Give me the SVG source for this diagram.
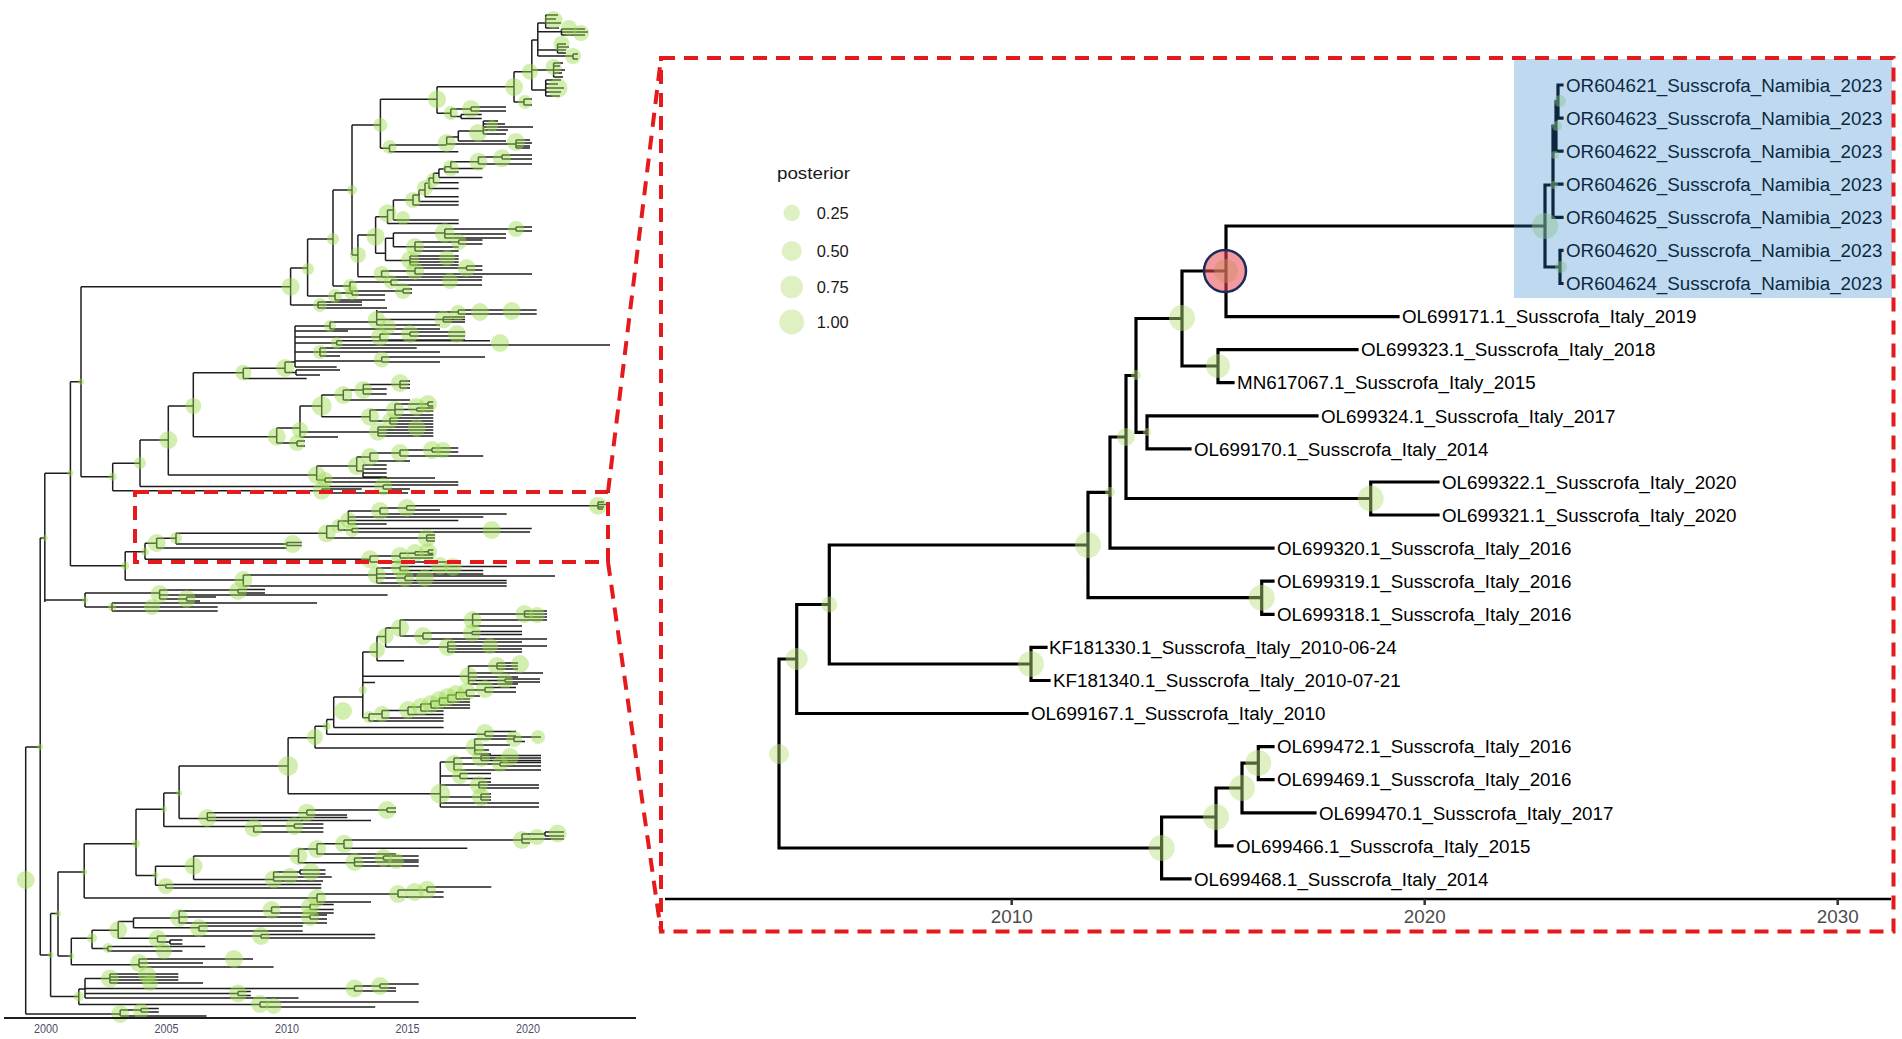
<svg xmlns="http://www.w3.org/2000/svg" width="1902" height="1039" viewBox="0 0 1902 1039">
<style>
.lt{fill:none;stroke:#1e1e1e;stroke-width:1.5}
.rt{fill:none;stroke:#000;stroke-width:3.2;stroke-linecap:square}
.pg circle{fill:#9cdc4e;fill-opacity:.45}
.pr circle{fill:#b8e07a;fill-opacity:.45}
.lab{font-family:"Liberation Sans",Arial,sans-serif;font-size:18.8px;fill:#000}
.ax{font-family:"Liberation Sans",Arial,sans-serif;font-size:18.8px;fill:#4d4d4d;text-anchor:middle}
.axl{font-family:"Liberation Sans",Arial,sans-serif;font-size:12px;fill:#4d4d66;text-anchor:middle}
.leg{font-family:"Liberation Sans",Arial,sans-serif;font-size:16px;fill:#1a1a1a}
.dash{fill:none;stroke:#e41a1c;stroke-width:4;stroke-dasharray:14 9}
</style>
<rect width="1902" height="1039" fill="#fff"/>

<g id="left-tree">
<path class="lt" d="M25.7 747V1014M25.7 747H40.2M25.7 1014H120.2M40.2 538V955M40.2 538H44.8M44.8 473.3V602M44.8 473.3H70.4M70.4 381.7V565.7M70.4 381.7H81M81 286.7V476.7M81 286.7H290.6M81 476.7H112.7M70.4 565.7H125.2M44.8 600H85M40.2 955H50.6"/>
<path class="lt" d="M290.6 268V305M290.6 305H318M318 302V308M318 302H362M318 305H362M318 308H387M290.6 268H307.6M307.6 239V296M307.6 296H335M335 293V300M335 293H352M352 291V295M352 291H385M352 295H385M335 300H385M307.6 239H333M333 190V286M333 286H350M350 282V291M350 282H391M391 280V285M391 280H482M391 285H482M350 291H403M403 289V293M403 289H412M403 293H412M333 190H352M352 125V255M352 125H380.4M380.4 99.3V148.3M380.4 99.3H437M437 86.7V113.3M437 86.7H514M514 71.7V102M514 102H524M524 99V105M524 99H532M524 105H532M514 71.7H531.8M531.8 40V90M531.8 40H537.8M531.8 70H553.6M531.8 90H545.7M537.8 23V56M537.8 23H545.7M537.8 31.7H561.5M537.8 50H557.5M537.8 56H573M545.7 15V28M545.7 15H558M545.7 19H556M545.7 23H561M545.7 28H559M561.5 29V35M561.5 29H585M561.5 32H588M561.5 35H585M557.5 44V53M557.5 44H566M557.5 47H569M557.5 50H566M557.5 53H566M573 54V59M573 54H578M573 59H578M553.6 63V77M553.6 63H563M553.6 66H560M553.6 70H565M553.6 73H562M553.6 77H563M545.7 80V96M545.7 80H561M545.7 84H558M545.7 88H564M545.7 92H561M545.7 96H560M437 113.3H450.8M450.8 109V116.5M450.8 109H471M471 107V111M471 107H506M471 111H506M450.8 116.5H461M461 114.5V118.5M461 114.5H481.7M461 118.5H481.7M380.4 148.3H389.5M389.5 145V151.7M389.5 151.7H458.3M389.5 145H446.7M446.7 137V144M446.7 137H458.3M458.3 131V141M458.3 141H506M458.3 131H483.3M483.3 121V134M483.3 121H498M483.3 124H505M483.3 127H533M483.3 130H508M483.3 134H506M446.7 144H516M516 140V148M516 140H530M516 143H532M516 146H530M516 148H530"/>
<path class="lt" d="M352 255H357.9M357.9 235V276.7M357.9 235H375.6M375.6 216.7V253.3M375.6 216.7H387.5M387.5 210V223.4M387.5 223.4H458.7M387.5 210H393.4M393.4 200V220M393.4 220H458.7M393.4 200H413M413 195V205M413 205H458.7M413 195H419M419 190V201.5M419 201.5H458.7M419 190H425M425 183.3V196.7M425 196.7H458.7M425 183.3H429M429 178V188.6M429 188.6H458.7M429 178H433.5M433.5 173.3V182.7M433.5 182.7H458.7M433.5 173.3H438.9M438.9 169V177.6M438.9 177.6H482.4M438.9 169H444.8M444.8 166.7V172M444.8 172H458.7M444.8 166.7H450.8M450.8 161.7V168.5M450.8 168.5H482.4M450.8 161.7H478.4M478.4 157V164M478.4 164H532M478.4 157H502M502 155V159M502 155H532M502 159H532M375.6 253.3H385.5M385.5 238.3V260.5M385.5 238.3H393.4M393.4 233V246.7M393.4 233H444.8M444.8 229V238M444.8 229H516M516 227V231M516 227H532M516 231H532M444.8 234H506M444.8 238H506M393.4 246.7H415M415 242V251M415 242H458.7M458.7 240V244M458.7 240H482.4M458.7 244H482.4M415 247H458.7M415 251H458.7M385.5 260.5H410M410 256V265M410 256H458.7M410 259H458.7M410 262H458.7M410 265H458.7M357.9 276.7H381.6M381.6 271V277M381.6 271H415M415 268V274M415 268H466.6M466.6 266V270M466.6 266H482.4M466.6 270H482.4M415 274H532M381.6 277H482.4"/>
<path class="lt" d="M112.7 463.3V490.7M112.7 463.3H140M140 440V486.5M140 440H168.3M168.3 406V475M168.3 406H193.3M193.3 372.7V436.7M193.3 372.7H243.3M243.3 368.3V378.5M243.3 378.5H306.7M243.3 368.3H285M285 362V372.5M285 372.5H296M296 370V375M296 370H340M296 375H320M285 362H295M295 326V367M295 367H336.7M295 361H381.7M381.7 357V362M381.7 357H485M381.7 362H440M295 352H320M320 348V356M320 348H416.7M320 352H440M320 356H340M295 343H336.7M336.7 340.7V345M336.7 340.7H490M336.7 345H610M295 337H380M380 334V340M380 340H465M380 334H410M410 332V336M410 332H465M410 336H465M295 331H348M295 326H330M330 322V329M330 329H440M330 322H376.7M376.7 310V325M376.7 325H440M376.7 319.5H443.3M443.3 317V322M443.3 317H465M443.3 319.5H465M443.3 322H465M376.7 312H458.3M458.3 310V314M458.3 310H536.7M458.3 314H536.7"/>
<path class="lt" d="M193.3 436.7H276.7M276.7 428V443M276.7 428H300M300 406V437M300 406H321.7M321.7 395V416.7M321.7 395H343.3M343.3 390V400M343.3 390H363.3M363.3 384.5V394M363.3 384.5H400M400 381V388M400 381H410M400 384.5H410M400 388H410M363.3 389H386.7M363.3 394H386.7M343.3 400H410M321.7 416.7H370M370 410V421M370 410H395M395 404V415M395 404H428M428 402V406M428 402H433.3M428 406H433.3M395 409.5H416.7M416.7 408V411M416.7 408H433.3M416.7 411H433.3M395 415H433.3M370 421H390M390 418V424M390 418H433.3M390 421H433.3M390 424H433.3M300 432H378M378 427V436M378 427H433.3M378 430H433.3M378 433H433.3M378 436H433.3M300 437H338M276.7 443H297M297 441V446M297 441H305M297 446H305M168.3 475H316.7M316.7 466V480M316.7 466H356.7M356.7 457V471M356.7 457H370M370 453V461M370 453H400M400 450V456M400 450H432M432 448V452M432 448H458.3M432 452H458.3M400 456H483.3M370 461H410M356.7 471H363M363 465V477M363 465H386.7M363 469H386.7M363 473H386.7M363 477H386.7M316.7 480H325M325 478V482M325 478H435M325 482H458.3M140 486.5H383.3M383.3 485V489M383.3 485H458.3M383.3 489H410M112.7 490.7H321.7M321.7 489V493M321.7 489H361.7M321.7 493H408"/>
<path class="lt" d="M125.2 551.7V580M125.2 551.7H145M145 543.3V559.3M145 543.3H156.7M156.7 538.3V548M156.7 538.3H176M176 533.3V544M176 533.3H326.7M326.7 526V538M326.7 526H338.3M338.3 521V530M338.3 530H352M352 528.5V532M352 528.5H531.7M352 532H530M338.3 521H348.3M348.3 511V524M348.3 524H386.7M348.3 520.5H458.3M348.3 517H483.3M348.3 511H380M380 508V514M380 514H506.7M380 508H406.7M406.7 505.7V510M406.7 510H440M406.7 505.7H598M598 502V509M598 502H604M598 504.5H606M598 507H604M598 509H603M326.7 538H426.7M426.7 535V541M426.7 535H435M426.7 538H435M426.7 541H435M176 544H286.7M286.7 542.5V545.5M286.7 542.5H301.7M286.7 545.5H301.7M156.7 548H286.7M145 559.3H370M370 556V562M370 556H400M400 553.3V558M400 553.3H415M415 551.7V555M415 551.7H428.3M428.3 550V553.5M428.3 550H433.3M428.3 553.5H433.3M415 555H433.3M400 558H433.3M370 562H458.3M125.2 580H243.3M243.3 575V586M243.3 575H376.7M376.7 568V583M376.7 568H400M400 566.5V570.5M400 566.5H506.7M400 570.5H483.3M376.7 574H483.3M376.7 578H405M405 576V580.5M405 576H555M405 580.5H506.7M376.7 583H506.7M243.3 586H506.7M85 593V607M85 593H159.6M159.6 590V599M159.6 590H238M238 589.5V593M238 589.5H265M238 593H265M159.6 595H387.6M159.6 599H186.6M186.6 597V601M186.6 597H216M186.6 601H200M85 607H112M112 603V611M112 603H317M112 607H217.7M112 611H217.7"/>
<path class="lt" d="M50.6 913.6V996.5M50.6 913.6H58M58 872V956M58 872H84.2M84.2 843.8V898M84.2 843.8H136M136 809.3V875.6M136 809.3H163.8M163.8 793V826.5M163.8 793H179.1M179.1 766V818.6M179.1 766H288.1M288.1 737.7V793.7M288.1 737.7H315M315 726.3V748.1M315 726.3H326.7M326.7 719.4V734.3M326.7 719.4H333.7M333.7 697V727.4M333.7 727.4H443.6M333.7 697H362.8M362.8 652V717.7M362.8 652H377M377 636.5V660.7M377 660.7H404M377 636.5H385.6M385.6 628V647M385.6 628H400M400 620V636M400 620H472.6M472.6 614V626M472.6 614H524.5M524.5 611V617M524.5 611H547M524.5 614H547M524.5 617H547M472.6 620H547M472.6 626H522M400 636H423M423 633V639M423 633H472M472 631.5V634.5M472 631.5H522M472 634.5H522M423 639H547M385.6 647H447.8M447.8 642V652M447.8 642H522M447.8 646H547M447.8 649H522M447.8 652H522M362.8 676.2H468.5M468.5 666V684M468.5 666H497M497 663V669M497 663H518M497 666H518M497 669H518M468.5 673H543M468.5 677H518M468.5 680.5H505M505 679V682M505 679H540M505 682H540M468.5 684H518M362.8 682.4H375M362.8 717.7H369M369 714V721M369 721H443.6M369 714H382M382 710.5V718M382 718H443.6M382 710.5H408M408 707V714.5M408 714.5H443.6M408 707H420.8M420.8 704V711M420.8 711H443.6M420.8 704H431M431 701V708M431 708H470M431 701H439.4M439.4 698V705M439.4 705H470M439.4 698H447.8M447.8 695V702M447.8 702H470M447.8 695H456M456 692.5V699M456 699H470M456 692.5H466.4M466.4 690V696M466.4 696H480M466.4 690H485M485 687.5V692M485 687.5H516M485 692H516M326.7 734.3H485M485 731.5V736M485 731.5H516M485 736H516M315 748.1H474.7M474.7 739V754M474.7 739H514M514 737V741.5M514 737H541M514 741.5H525M474.7 745H510M474.7 750H489M474.7 754H491"/>
<path class="lt" d="M288.1 793.7H440.3M440.3 762V807M440.3 762H454M454 758V770M454 758H481M481 755.5V760.5M481 755.5H541M481 758H541M481 760.5H541M454 764H500M500 762.5V766M500 762.5H541M500 766H541M454 770H541M440.3 776H460M460 773.5V778.5M460 773.5H491M460 778.5H491M440.3 785H478.9M478.9 782V788M478.9 782H491M478.9 785H539M478.9 788H539M440.3 797H481M481 794V800M481 794H491M481 797H491M481 800H491M440.3 803H539M440.3 807H539M179.1 818.6H207.3M207.3 812.7V820.5M207.3 812.7H306.8M306.8 810V815M306.8 810H387M387 808V812M387 808H396M387 812H396M306.8 815H347M207.3 817.5H347.4M207.3 820.5H371M163.8 826.5H253.7M253.7 826V832M253.7 826H294.4M294.4 824V828M294.4 824H323.4M294.4 828H323.4M253.7 832H323.4M136 875.6H155.5M155.5 866.3V885.3M155.5 866.3H193.6M193.6 856V879.4M193.6 856H298.5M298.5 849V862.8M298.5 849H317M317 843.8V854M317 843.8H344M344 840V848.3M344 840H522M522 834V843M522 834H545M545 832V836M545 832H564M545 836H564M522 839H564M522 843H530M344 848.3H467.3M317 854H396M298.5 862.8H354.5M354.5 858V866M354.5 858H383.5M383.5 856V860M383.5 856H418.7M383.5 860H418.7M354.5 862H418.7M354.5 866H418.7M193.6 879.4H273.6M273.6 872V881M273.6 872H300M300 870V874M300 870H325.5M300 874H325.5M273.6 877H331.7M273.6 881H323M155.5 885.3H165.8M165.8 884.5V888M165.8 884.5H321.3M165.8 888H321.3M84.2 898H317M317 894V902M317 894H398M398 890V897M398 890H427M427 887V892M427 887H491.3M427 892H443.6M398 897H443.6M317 902H371"/>
<path class="lt" d="M58 956H71.3M71.3 938.2V964.8M71.3 938.2H92M92 930.2V948.5M92 930.2H118.2M118.2 921.6V938.2M118.2 921.6H133.5M133.5 918.1V927.8M133.5 918.1H179.1M179.1 911V923M179.1 911H271.6M271.6 907V913M271.6 907H310M310 904.5V909.5M310 904.5H333.7M310 909.5H333.7M271.6 913H333.7M179.1 917H310M310 915V919M310 915H327M310 919H327M179.1 923H327M133.5 927.8H199M199 926V931M199 926H302.7M199 931H302.7M118.2 938.2H157.5M157.5 936V942M157.5 936H261M261 934.5V938M261 934.5H375.2M261 938H375.2M157.5 942H170M170 940V944M170 940H182.4M170 944H182.4M92 948.5H107.8M107.8 946.5V951M107.8 946.5H205.2M107.8 951H182.4M71.3 964.8H139M139 959V967M139 959H253M139 963H203M139 967H273.6M50.6 996.5H78.8M78.8 989V1004.5M78.8 989H85M85 978.6V998M85 978.6H109.9M109.9 974V983M109.9 974H178.3M109.9 977H178.3M109.9 980H178.3M109.9 983H203M85 988.5H354.5M354.5 986V991M354.5 986H380M380 984V988M380 984H418.7M380 988H396M354.5 991H396M85 993.5H238M238 991.5V995.5M238 991.5H250.8M238 995.5H250.8M85 998H298.5M78.8 1004.5H260M260 1002V1007M260 1002H418.7M260 1007H375.2M120.2 1010V1016M120.2 1010H141M141 1008.5V1012M141 1008.5H158.8M141 1012H158.8M120.2 1016H206.5"/>
</g>

<g id="left-posterior" class="pg">
<circle cx="25.7" cy="880" r="9"/><circle cx="40.2" cy="747" r="3"/><circle cx="44.8" cy="538" r="3"/><circle cx="70.4" cy="473.3" r="3"/><circle cx="81" cy="381.7" r="3"/><circle cx="112.7" cy="476.7" r="4"/><circle cx="125.2" cy="565.7" r="4"/><circle cx="85" cy="600" r="3"/><circle cx="50.6" cy="955" r="3"/><circle cx="58" cy="913.6" r="3"/><circle cx="84.2" cy="872" r="3"/><circle cx="136" cy="843.8" r="4"/><circle cx="163.8" cy="809.3" r="3"/><circle cx="179.1" cy="793" r="3"/>
<circle cx="290.6" cy="286.7" r="9"/><circle cx="320" cy="305" r="7"/><circle cx="308" cy="269" r="6"/><circle cx="335" cy="296" r="7"/><circle cx="352" cy="293" r="7"/><circle cx="333" cy="239" r="6"/><circle cx="350" cy="286" r="7"/><circle cx="391" cy="282" r="7"/><circle cx="450" cy="281" r="8"/><circle cx="403" cy="291" r="8"/><circle cx="352" cy="190" r="5"/><circle cx="380.4" cy="125" r="7"/><circle cx="437" cy="99.3" r="9"/><circle cx="514" cy="87" r="9"/><circle cx="525" cy="102" r="7"/><circle cx="530" cy="71.7" r="8"/><circle cx="553.6" cy="20" r="9"/><circle cx="569" cy="28" r="8"/><circle cx="581" cy="33" r="8"/><circle cx="561.5" cy="44" r="8"/><circle cx="573" cy="56" r="8"/><circle cx="553.6" cy="67" r="8"/><circle cx="557.5" cy="88" r="10"/><circle cx="450.8" cy="113" r="7"/><circle cx="471" cy="109" r="9"/><circle cx="389.5" cy="147" r="7"/><circle cx="446.7" cy="143" r="9"/><circle cx="478" cy="133" r="9"/><circle cx="492" cy="126" r="6"/><circle cx="516" cy="142" r="9"/>
<circle cx="357.9" cy="255" r="8"/><circle cx="375.6" cy="236.7" r="9"/><circle cx="387.5" cy="213.3" r="9"/><circle cx="403" cy="218" r="7"/><circle cx="413" cy="200" r="8"/><circle cx="425" cy="188" r="8"/><circle cx="433" cy="180" r="7"/><circle cx="450.8" cy="168" r="8"/><circle cx="478.4" cy="161.7" r="9"/><circle cx="502" cy="158.3" r="9"/><circle cx="444.8" cy="233" r="10"/><circle cx="516" cy="229" r="8"/><circle cx="415" cy="247" r="9"/><circle cx="458.7" cy="242" r="8"/><circle cx="410" cy="260" r="9"/><circle cx="447" cy="258" r="8"/><circle cx="381.6" cy="274" r="8"/><circle cx="415" cy="271" r="9"/><circle cx="466.6" cy="268" r="9"/>
<circle cx="140" cy="463" r="6"/><circle cx="168.3" cy="440" r="9"/><circle cx="193.3" cy="406" r="8"/><circle cx="243.3" cy="372.7" r="8"/><circle cx="285" cy="368" r="9"/><circle cx="381.7" cy="359.5" r="8"/><circle cx="320" cy="352" r="7"/><circle cx="336.7" cy="343" r="6"/><circle cx="500" cy="343" r="9"/><circle cx="380" cy="337" r="9"/><circle cx="410" cy="334" r="9"/><circle cx="457" cy="334" r="9"/><circle cx="330" cy="326" r="6"/><circle cx="376.7" cy="320" r="9"/><circle cx="388" cy="327" r="8"/><circle cx="443.3" cy="319.5" r="9"/><circle cx="458" cy="313" r="8"/><circle cx="480" cy="312" r="9"/><circle cx="511.7" cy="311" r="9"/>
<circle cx="276.7" cy="436.7" r="9"/><circle cx="300" cy="430" r="8"/><circle cx="321.7" cy="406" r="10"/><circle cx="343.3" cy="395" r="9"/><circle cx="363.3" cy="390" r="9"/><circle cx="400" cy="383" r="9"/><circle cx="370" cy="416.7" r="9"/><circle cx="395" cy="410" r="9"/><circle cx="416.7" cy="407" r="9"/><circle cx="428" cy="404" r="9"/><circle cx="390" cy="421" r="8"/><circle cx="378" cy="431.7" r="9"/><circle cx="416.7" cy="428" r="9"/><circle cx="297" cy="443" r="8"/><circle cx="316.7" cy="475" r="9"/><circle cx="356.7" cy="466" r="9"/><circle cx="370" cy="457" r="9"/><circle cx="400" cy="453" r="9"/><circle cx="432" cy="450" r="9"/><circle cx="443" cy="450" r="8"/><circle cx="325" cy="480" r="8"/><circle cx="383.3" cy="486.5" r="9"/><circle cx="321.7" cy="490.7" r="9"/>
<circle cx="145" cy="551.7" r="4"/><circle cx="156.7" cy="543" r="9"/><circle cx="176" cy="538" r="6"/><circle cx="326.7" cy="533.3" r="9"/><circle cx="338.3" cy="526" r="7"/><circle cx="348.3" cy="520" r="8"/><circle cx="380" cy="511" r="9"/><circle cx="406.7" cy="508" r="9"/><circle cx="598" cy="505.7" r="9"/><circle cx="352" cy="530" r="7"/><circle cx="491.7" cy="530" r="9"/><circle cx="426.7" cy="538" r="9"/><circle cx="292.7" cy="544" r="9"/><circle cx="370" cy="559.3" r="9"/><circle cx="400" cy="556" r="9"/><circle cx="415" cy="553" r="9"/><circle cx="428" cy="552" r="9"/><circle cx="243.3" cy="580" r="9"/><circle cx="376.7" cy="575" r="9"/><circle cx="400" cy="568" r="9"/><circle cx="440" cy="566" r="9"/><circle cx="453" cy="567" r="9"/><circle cx="405" cy="578" r="9"/><circle cx="425" cy="578" r="9"/>
<circle cx="159.6" cy="594" r="9"/><circle cx="238" cy="591" r="9"/><circle cx="186.6" cy="599" r="9"/><circle cx="112" cy="607" r="4"/><circle cx="152" cy="607" r="8"/>
<circle cx="288.1" cy="766" r="10"/><circle cx="315" cy="737" r="8"/><circle cx="326.7" cy="726" r="4"/><circle cx="343" cy="711" r="9"/><circle cx="362.8" cy="690" r="4"/><circle cx="377" cy="650" r="8"/><circle cx="385.6" cy="636" r="8"/><circle cx="400" cy="628" r="9"/><circle cx="423" cy="636" r="9"/><circle cx="472.6" cy="620" r="9"/><circle cx="524.5" cy="614" r="9"/><circle cx="537" cy="615" r="8"/><circle cx="447.8" cy="647" r="9"/><circle cx="472" cy="633" r="9"/><circle cx="490" cy="646" r="8"/><circle cx="468.5" cy="676" r="9"/><circle cx="497" cy="666" r="9"/><circle cx="520" cy="664" r="9"/><circle cx="505" cy="681" r="8"/><circle cx="369" cy="717" r="6"/><circle cx="382" cy="714" r="8"/><circle cx="408" cy="710" r="9"/><circle cx="420.8" cy="707" r="9"/><circle cx="431" cy="704" r="9"/><circle cx="439.4" cy="700" r="9"/><circle cx="447.8" cy="697" r="9"/><circle cx="456" cy="694" r="9"/><circle cx="466.4" cy="692" r="9"/><circle cx="485" cy="689" r="9"/><circle cx="485" cy="733" r="9"/><circle cx="474.7" cy="747" r="9"/><circle cx="514" cy="739" r="8"/><circle cx="538" cy="737" r="7"/>
<circle cx="440.3" cy="793.7" r="10"/><circle cx="454" cy="764" r="9"/><circle cx="481" cy="758" r="9"/><circle cx="510" cy="757" r="9"/><circle cx="500" cy="764" r="8"/><circle cx="460" cy="776" r="8"/><circle cx="478.9" cy="785" r="9"/><circle cx="481" cy="797" r="9"/><circle cx="207.3" cy="818" r="9"/><circle cx="306.8" cy="812.7" r="9"/><circle cx="387" cy="810" r="9"/><circle cx="253.7" cy="828" r="9"/><circle cx="294.4" cy="826" r="9"/><circle cx="193.6" cy="866" r="9"/><circle cx="298.5" cy="856" r="9"/><circle cx="317" cy="849" r="9"/><circle cx="344" cy="843.8" r="9"/><circle cx="522" cy="840" r="9"/><circle cx="537" cy="837" r="8"/><circle cx="557.6" cy="833.5" r="9"/><circle cx="354.5" cy="862" r="9"/><circle cx="383.5" cy="858" r="9"/><circle cx="396" cy="861" r="8"/><circle cx="273.6" cy="879.4" r="9"/><circle cx="290" cy="876" r="8"/><circle cx="311" cy="872" r="9"/><circle cx="165.8" cy="886" r="8"/><circle cx="155.5" cy="875" r="3"/><circle cx="317" cy="898" r="9"/><circle cx="398" cy="894" r="9"/><circle cx="414.6" cy="892" r="9"/><circle cx="427" cy="889.8" r="9"/>
<circle cx="118.2" cy="930" r="9"/><circle cx="179.1" cy="918" r="9"/><circle cx="271.6" cy="910" r="9"/><circle cx="310" cy="907" r="9"/><circle cx="310" cy="917" r="9"/><circle cx="199" cy="928" r="9"/><circle cx="157.5" cy="939" r="9"/><circle cx="261" cy="936" r="9"/><circle cx="163.8" cy="951" r="8"/><circle cx="139" cy="963" r="9"/><circle cx="234" cy="959" r="9"/><circle cx="92" cy="938" r="5"/><circle cx="107.8" cy="948" r="5"/><circle cx="71.3" cy="956" r="3"/><circle cx="78.8" cy="996.5" r="5"/><circle cx="109.9" cy="978.6" r="9"/><circle cx="147" cy="975" r="9"/><circle cx="150" cy="983" r="8"/><circle cx="354.5" cy="988.5" r="9"/><circle cx="380" cy="986" r="9"/><circle cx="238" cy="993.5" r="9"/><circle cx="260" cy="1004" r="9"/><circle cx="273.6" cy="1006" r="8"/><circle cx="120.2" cy="1014" r="9"/><circle cx="141" cy="1011" r="8"/>
</g>

<g id="left-axis">
<path d="M4 1018H636" stroke="#1e1e1e" stroke-width="1.8" fill="none"/>
<text class="axl" x="46" y="1033" textLength="24" lengthAdjust="spacingAndGlyphs">2000</text>
<text class="axl" x="166.5" y="1033" textLength="24" lengthAdjust="spacingAndGlyphs">2005</text>
<text class="axl" x="287" y="1033" textLength="24" lengthAdjust="spacingAndGlyphs">2010</text>
<text class="axl" x="407.5" y="1033" textLength="24" lengthAdjust="spacingAndGlyphs">2015</text>
<text class="axl" x="528" y="1033" textLength="24" lengthAdjust="spacingAndGlyphs">2020</text>
</g>

<g id="zoom-connectors">
<rect class="dash" x="135" y="492" width="473" height="70"/>
<path class="dash" d="M608 492L661 58M608 562L661 931.5"/>
</g>

<g id="right-tree-edges">
<path class="rt" d="M779 659V848M779 659H796.7M779 848H1161.6M796.7 604.5V713.5M796.7 604.5H829.3M796.7 713.5H1027M829.3 545V664M829.3 545H1088M829.3 664H1031M1031 647.4V680.5M1031 647.4H1046M1031 680.5H1049M1088 492.4V597.7M1088 492.4H1110M1088 597.7H1261.7M1261.7 581.2V614.3M1261.7 581.2H1273M1261.7 614.3H1273M1110 437V548.1M1110 437H1126M1110 548.1H1273M1126 375.5V498.5M1126 375.5H1136M1126 498.5H1370.7M1370.7 482V515M1370.7 482H1438M1370.7 515H1438M1136 318.5V432.3M1136 318.5H1182M1136 432.3H1147M1147 415.8V448.9M1147 415.8H1317M1147 448.9H1190M1182 271V366M1182 271H1226M1182 366H1218M1218 349.6V382.7M1218 349.6H1357M1218 382.7H1233M1226 226V316.6M1226 226H1545M1226 316.6H1398M1545 185V267M1545 185H1553M1545 267H1560M1553 126V217.3M1553 126H1556M1553 184.2H1562M1553 217.3H1562M1556 101.5V151.2M1556 101.5H1558M1556 151.2H1562M1558 85V118.1M1558 85H1562M1558 118.1H1562M1560 250.4V283.5M1560 250.4H1562M1560 283.5H1562M1161.6 817V878.9M1161.6 817H1216M1161.6 878.9H1190M1216 788V845.8M1216 788H1242M1216 845.8H1232M1242 763.2V812.8M1242 763.2H1258.3M1242 812.8H1315M1258.3 746.6V779.7M1258.3 746.6H1273M1258.3 779.7H1273"/>
</g>

<g id="right-posterior" class="pr">
<circle cx="1545" cy="226" r="13"/><circle cx="1226" cy="271" r="12"/><circle cx="1182" cy="318" r="13"/><circle cx="1218" cy="366" r="12"/><circle cx="1136" cy="375" r="5"/><circle cx="1147" cy="432" r="4"/><circle cx="1126" cy="437" r="9"/><circle cx="1370.7" cy="498.5" r="13"/><circle cx="1110" cy="492" r="5"/><circle cx="1088" cy="545" r="13"/><circle cx="1261.7" cy="597.7" r="13"/><circle cx="829.3" cy="604.5" r="8"/><circle cx="1031" cy="664" r="13"/><circle cx="796.7" cy="659" r="11"/><circle cx="779" cy="754" r="10"/><circle cx="1161.6" cy="848" r="13"/><circle cx="1216" cy="817" r="13"/><circle cx="1242" cy="788" r="13"/><circle cx="1258.3" cy="763" r="13"/><circle cx="1560" cy="101" r="6"/><circle cx="1557" cy="126" r="5"/><circle cx="1555" cy="155" r="4"/><circle cx="1554" cy="185" r="4"/><circle cx="1561" cy="267" r="6"/>
</g>

<g id="leaf-labels">
<g id="leaf-OR604621"><text class="lab" x="1566" y="91.7">OR604621_Susscrofa_Namibia_2023</text></g>
<g id="leaf-OR604623"><text class="lab" x="1566" y="124.8">OR604623_Susscrofa_Namibia_2023</text></g>
<g id="leaf-OR604622"><text class="lab" x="1566" y="157.9">OR604622_Susscrofa_Namibia_2023</text></g>
<g id="leaf-OR604626"><text class="lab" x="1566" y="190.9">OR604626_Susscrofa_Namibia_2023</text></g>
<g id="leaf-OR604625"><text class="lab" x="1566" y="224">OR604625_Susscrofa_Namibia_2023</text></g>
<g id="leaf-OR604620"><text class="lab" x="1566" y="257.1">OR604620_Susscrofa_Namibia_2023</text></g>
<g id="leaf-OR604624"><text class="lab" x="1566" y="290.2">OR604624_Susscrofa_Namibia_2023</text></g>
<g id="leaf-OL699171"><text class="lab" x="1402" y="323.3">OL699171.1_Susscrofa_Italy_2019</text></g>
<g id="leaf-OL699323"><text class="lab" x="1361" y="356.3">OL699323.1_Susscrofa_Italy_2018</text></g>
<g id="leaf-MN617067"><text class="lab" x="1237" y="389.4">MN617067.1_Susscrofa_Italy_2015</text></g>
<g id="leaf-OL699324"><text class="lab" x="1321" y="422.5">OL699324.1_Susscrofa_Italy_2017</text></g>
<g id="leaf-OL699170"><text class="lab" x="1194" y="455.6">OL699170.1_Susscrofa_Italy_2014</text></g>
<g id="leaf-OL699322"><text class="lab" x="1442" y="488.7">OL699322.1_Susscrofa_Italy_2020</text></g>
<g id="leaf-OL699321"><text class="lab" x="1442" y="521.7">OL699321.1_Susscrofa_Italy_2020</text></g>
<g id="leaf-OL699320"><text class="lab" x="1277" y="554.8">OL699320.1_Susscrofa_Italy_2016</text></g>
<g id="leaf-OL699319"><text class="lab" x="1277" y="587.9">OL699319.1_Susscrofa_Italy_2016</text></g>
<g id="leaf-OL699318"><text class="lab" x="1277" y="621">OL699318.1_Susscrofa_Italy_2016</text></g>
<g id="leaf-KF181330"><text class="lab" x="1049" y="654.1">KF181330.1_Susscrofa_Italy_2010-06-24</text></g>
<g id="leaf-KF181340"><text class="lab" x="1053" y="687.2">KF181340.1_Susscrofa_Italy_2010-07-21</text></g>
<g id="leaf-OL699167"><text class="lab" x="1031" y="720.2">OL699167.1_Susscrofa_Italy_2010</text></g>
<g id="leaf-OL699472"><text class="lab" x="1277" y="753.3">OL699472.1_Susscrofa_Italy_2016</text></g>
<g id="leaf-OL699469"><text class="lab" x="1277" y="786.4">OL699469.1_Susscrofa_Italy_2016</text></g>
<g id="leaf-OL699470"><text class="lab" x="1319" y="819.5">OL699470.1_Susscrofa_Italy_2017</text></g>
<g id="leaf-OL699466"><text class="lab" x="1236" y="852.5">OL699466.1_Susscrofa_Italy_2015</text></g>
<g id="leaf-OL699468"><text class="lab" x="1194" y="885.6">OL699468.1_Susscrofa_Italy_2014</text></g>
</g>

<g id="namibia-highlight">
<rect x="1514" y="59" width="378" height="239" fill="rgb(40,130,205)" fill-opacity="0.3"/>
</g>

<g id="mrca-marker">
<circle cx="1225" cy="271" r="21" fill="#e8474c" fill-opacity="0.55"/>
<circle cx="1225" cy="271" r="21" fill="none" stroke="#1c2b5a" stroke-width="2.5"/>
</g>

<g id="legend">
<text class="leg" x="777" y="179" textLength="73" lengthAdjust="spacingAndGlyphs">posterior</text>
<g class="pr">
<circle cx="791.7" cy="213" r="8.3"/><circle cx="791.7" cy="251" r="10"/><circle cx="791.7" cy="287" r="11.3"/><circle cx="791.7" cy="322" r="12.5"/>
</g>
<text class="leg" x="816.7" y="218.7" textLength="32" lengthAdjust="spacingAndGlyphs">0.25</text>
<text class="leg" x="816.7" y="256.7" textLength="32" lengthAdjust="spacingAndGlyphs">0.50</text>
<text class="leg" x="816.7" y="292.7" textLength="32" lengthAdjust="spacingAndGlyphs">0.75</text>
<text class="leg" x="816.7" y="327.7" textLength="32" lengthAdjust="spacingAndGlyphs">1.00</text>
</g>

<g id="right-axis">
<path d="M665 899H1891" stroke="#000" stroke-width="2.5" fill="none"/>
<path d="M1011.7 899V905M1424.7 899V905M1837.7 899V905" stroke="#333" stroke-width="2.5" fill="none"/>
<text class="ax" x="1011.7" y="922.5">2010</text>
<text class="ax" x="1424.7" y="922.5">2020</text>
<text class="ax" x="1837.7" y="922.5">2030</text>
</g>

<g id="zoom-frame">
<rect class="dash" x="661" y="58" width="1232.5" height="873.5"/>
</g>
</svg>
